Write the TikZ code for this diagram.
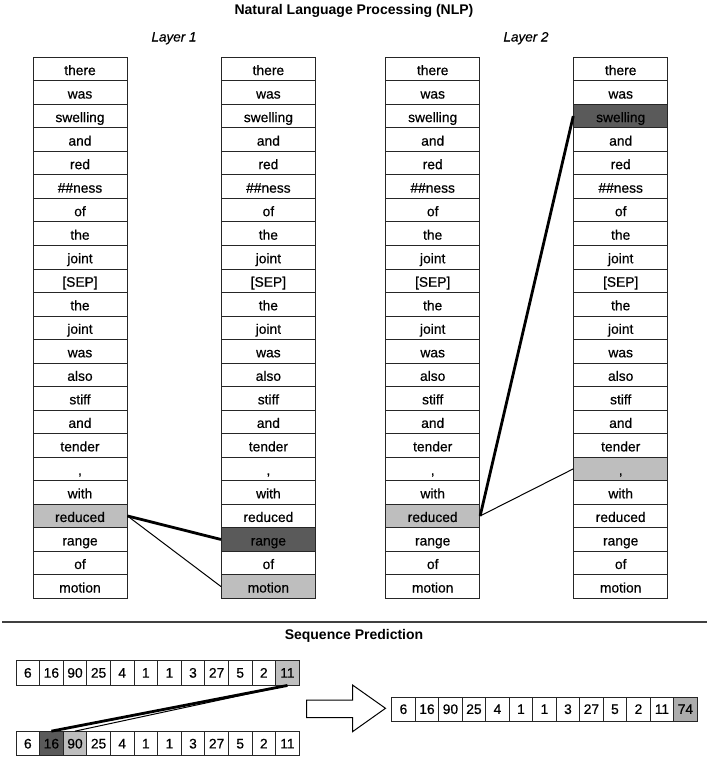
\documentclass[tikz,border=0pt]{standalone}
\usepackage{fontspec}
\setmainfont{Liberation Sans}
\newfontfamily\cellfont{Liberation Sans}[FakeBold=0.5]
\newfontfamily\layerfont{Liberation Sans Italic}[FakeBold=0.4]
\definecolor{lightg}{HTML}{BEBEBE}
\definecolor{darkg}{HTML}{5A5A5A}
\definecolor{midg}{HTML}{ACACAC}
\definecolor{rulec}{HTML}{404040}
\tikzset{
 wordcell/.style={draw=black!85, line width=0.9pt, minimum width=94pt, minimum height=23.52pt, inner sep=0pt, text height=12pt, text depth=0pt, font=\cellfont\fontsize{13.8}{16}\selectfont},
 numcell/.style={draw=black!85, line width=0.9pt, minimum width=23.6pt, minimum height=24.2pt, inner sep=0pt, text height=9.5pt, text depth=0pt, font=\cellfont\fontsize{13.8}{16}\selectfont},
 strong/.style={line width=2.8pt},
 weak/.style={line width=1pt},
 title/.style={font=\bfseries\fontsize{14}{16}\selectfont, anchor=base},
 layer/.style={font=\layerfont\fontsize{13.5}{16}\selectfont, anchor=base},
 bigarrow/.style={draw=black, line width=1pt, fill=white, line join=miter},
}
\expandafter\def\csname f1-19\endcsname{lightg}
\expandafter\def\csname f2-20\endcsname{darkg}
\expandafter\def\csname f2-22\endcsname{lightg}
\expandafter\def\csname f3-19\endcsname{lightg}
\expandafter\def\csname f4-2\endcsname{darkg}
\expandafter\def\csname f4-17\endcsname{lightg}
\expandafter\def\csname fs1-11\endcsname{lightg}
\expandafter\def\csname fs2-1\endcsname{darkg}
\expandafter\def\csname fs2-2\endcsname{lightg}
\expandafter\def\csname fo-12\endcsname{midg}
\begin{document}
\begin{tikzpicture}[x=1pt, y=-1pt]
\fill[white] (0,0) rectangle (709,758);
\useasboundingbox (0,0) rectangle (709,758);
\node[title] (t1) at (354,14.5) {Natural Language Processing (NLP)};
\node[layer] (l1) at (174,41.5) {Layer 1};
\node[layer] (l2) at (526,41.5) {Layer 2};
\foreach \c/\cx in {1/80,2/268.4,3/432.7,4/620.7}{
 \foreach \w [count=\i from 0] in {there,was,swelling,and,red,{\#\#ness},of,the,joint,{[SEP]},the,joint,was,also,stiff,and,tender,{,},with,reduced,range,of,motion}{
   \ifcsname f\c-\i\endcsname \edef\fc{\csname f\c-\i\endcsname}\else\def\fc{white}\fi
   \node[wordcell, fill=\fc] (c\c-\i) at (\cx, {69.06+\i*23.52}) {\w};
 }
}
\draw[strong] (c1-19.east) -- (c2-20.west);
\draw[weak] (c1-19.east) -- (c2-22.west);
\draw[strong] (c3-19.east) -- (c4-2.west);
\draw[weak] (c3-19.east) -- (c4-17.west);
\draw[rulec, line width=2pt] (2,621.7) -- (706.7,621.7);
\node[title] (t2) at (354,639) {Sequence Prediction};
\foreach \v [count=\j from 0] in {6,16,90,25,4,1,1,3,27,5,2,11}{
   \ifcsname fs1-\j\endcsname \edef\fc{\csname fs1-\j\endcsname}\else\def\fc{white}\fi
   \node[numcell, fill=\fc] (s1-\j) at ({27.8+\j*23.6}, 672.9) {\v};
   \ifcsname fs2-\j\endcsname \edef\fc{\csname fs2-\j\endcsname}\else\def\fc{white}\fi
   \node[numcell, fill=\fc] (s2-\j) at ({27.8+\j*23.6}, 743.7) {\v};
}
\foreach \v [count=\j from 0] in {6,16,90,25,4,1,1,3,27,5,2,11,74}{
   \ifcsname fo-\j\endcsname \edef\fc{\csname fo-\j\endcsname}\else\def\fc{white}\fi
   \node[numcell, minimum width=23.5pt, minimum height=23.7pt, fill=\fc] (o-\j) at ({403.45+\j*23.5}, 709.2) {\v};
}
\draw[strong] (s1-11.south) -- (s2-1.north);
\draw[weak] (s1-11.south) -- (s2-2.north);
\draw[bigarrow] (306.7,700) -- (352.5,700) -- (352.5,685) -- (385.5,708.3) -- (352.5,731.7) -- (352.5,717.5) -- (306.7,717.5) -- cycle;
\end{tikzpicture}
\end{document}
